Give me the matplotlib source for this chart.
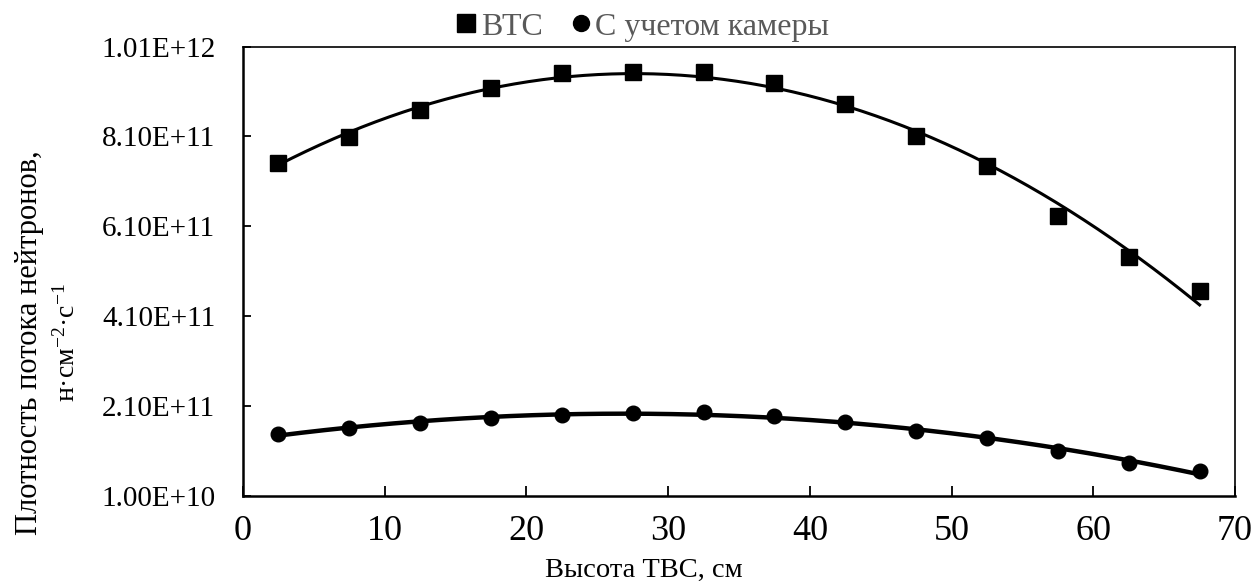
import numpy as np
import matplotlib.pyplot as plt
from matplotlib.lines import Line2D

plt.rcParams['font.family'] = ['Liberation Serif', 'DejaVu Serif']
plt.rcParams['mathtext.fontset'] = 'custom'
plt.rcParams['mathtext.rm'] = 'Liberation Serif'
plt.rcParams['mathtext.it'] = 'Liberation Serif'

# Высота ТВС, см
height_cm = [2.5, 7.5, 12.5, 17.5, 22.5, 27.5, 32.5, 37.5, 42.5, 47.5, 52.5, 57.5, 62.5, 67.5]

# Плотность потока нейтронов, н/(см2*с)
flux_vts = [7.50e11, 8.09e11, 8.69e11, 9.17e11, 9.50e11, 9.54e11, 9.53e11,
            9.28e11, 8.83e11, 8.11e11, 7.44e11, 6.32e11, 5.42e11, 4.66e11]
flux_camera = [1.47e11, 1.60e11, 1.72e11, 1.82e11, 1.89e11, 1.93e11, 1.97e11,
               1.87e11, 1.74e11, 1.54e11, 1.39e11, 1.10e11, 8.2e10, 6.5e10]

x_ticks = [0, 10, 20, 30, 40, 50, 60, 70]
y_ticks = [1.00e10, 2.10e11, 4.10e11, 6.10e11, 8.10e11, 1.01e12]
y_tick_labels = ['1.00E+10', '2.10E+11', '4.10E+11', '6.10E+11', '8.10E+11', '1.01E+12']

fig = plt.figure(figsize=(12.57, 5.83), dpi=100)
ax = fig.add_axes([0.1933, 0.150, 0.7892, 0.7702])

x = np.array(height_cm)
x_fit = np.linspace(x.min(), x.max(), 200)

# полиномиальные линии тренда 2-го порядка
for data, lw in ((flux_vts, 2.2), (flux_camera, 3.2)):
    coef = np.polyfit(x, np.array(data), 2)
    ax.plot(x_fit, np.polyval(coef, x_fit), color='black', linewidth=lw, zorder=2)

ax.plot(x, flux_vts, linestyle='none', marker='s', markersize=12, color='black', zorder=3)
ax.plot(x, flux_camera, linestyle='none', marker='o', markersize=10.5, color='black', zorder=3)

ax.set_xlim(0, 70)
ax.set_ylim(1.00e10, 1.01e12)
ax.set_xticks(x_ticks)
ax.set_yticks(y_ticks)
ax.set_yticklabels(y_tick_labels)
ax.tick_params(axis='x', direction='in', length=7, width=1.3, labelsize=26, pad=14)
ax.tick_params(axis='y', direction='in', length=6, width=1.3, labelsize=21, pad=20)

for side in ('left', 'bottom'):
    ax.spines[side].set_linewidth(1.8)
for side in ('top', 'right'):
    ax.spines[side].set_linewidth(1.2)

fig.text(644 / 1257, 1 - 570 / 583, 'Высота ТВС, см', fontsize=20.5,
         ha='center', va='center')
fig.text(30 / 1257, 1 - 343 / 583, 'Плотность потока нейтронов,', fontsize=22,
         rotation=90, ha='center', va='center')
fig.text(67 / 1257, 1 - 343 / 583, 'н·см$^{-2}$·с$^{-1}$', fontsize=20,
         rotation=90, ha='center', va='center')

handles = [
    Line2D([], [], linestyle='none', marker='s', markersize=12.5, color='black'),
    Line2D([], [], linestyle='none', marker='o', markersize=11.5, color='black'),
]
fig.legend(handles, ['ВТС', 'С учетом камеры'], loc='center',
           bbox_to_anchor=(643 / 1257, 1 - 27 / 583), ncol=2, frameon=False,
           fontsize=23, labelcolor='#595959', handlelength=0.6,
           handletextpad=0.15, columnspacing=0.9, borderpad=0)

fig.savefig('out.png', dpi=100, facecolor='white')
